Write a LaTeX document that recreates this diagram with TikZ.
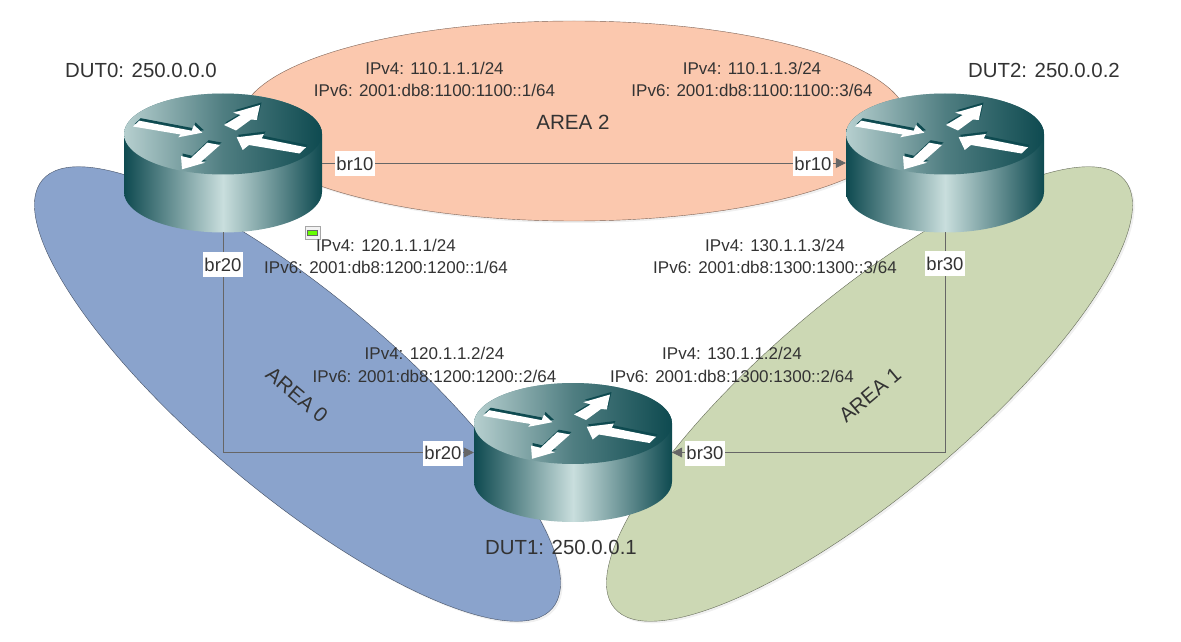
\documentclass[tikz,border=0pt]{standalone}
\usepackage{fontspec}
\setmainfont{Liberation Sans}
\usetikzlibrary{shapes.geometric,shadows,arrows.meta}

\definecolor{routerdark}{HTML}{0E4A50}
\definecolor{routerlight}{HTML}{C9DEDD}
\definecolor{labeltext}{HTML}{333333}
\definecolor{areaorange}{HTML}{FBC8AE}
\definecolor{areablue}{HTML}{8AA3CC}
\definecolor{areagreen}{HTML}{CCD8B4}

\newcommand{\arrowpoly}[1]{
    \fill[routerdark,shift={(1.5,2.5)}] #1 -- cycle;
    \fill[white] #1 -- cycle;
}

\tikzset{
    area/.style={ellipse,draw=#1!50!black,fill=#1,inner sep=0pt,
        drop shadow={opacity=0.12,shadow xshift=2pt,shadow yshift=-2pt}},
    routerbox/.style={minimum width=198,minimum height=138,inner sep=0pt},
    iplabel/.style={text=labeltext,align=center,font=\fontsize{17}{22.5}\selectfont},
    duttext/.style={text=labeltext,font=\fontsize{20.4}{24}\selectfont},
    areatext/.style={text=labeltext,font=\fontsize{20.6}{24}\selectfont},
    brlabel/.style={fill=white,text=labeltext,inner sep=0pt,minimum width=40,minimum height=25,font=\fontsize{18.5}{22}\selectfont},
    link/.style={draw=black!60,line width=0.7pt,-{Stealth[length=10pt,width=10pt,inset=0pt]}},
    router/.pic={
        \shade[left color=routerdark,right color=routerdark,middle color=routerlight]
            (-99,29) -- (-99,-29) arc[start angle=180,end angle=360,x radius=99,y radius=40.5]
            -- (99,29) arc[start angle=0,end angle=180,x radius=99,y radius=40.5] -- cycle;
        \shade[left color=routerlight!90!routerdark,right color=routerdark,middle color=routerdark!65!routerlight]
            (0,29) ellipse[x radius=99,y radius=40.5];
        \arrowpoly{(-90,36.5) -- (-83.7,42.3) -- (-31.3,32.3) -- (-29,38) -- (-20.7,30.3) -- (-44.7,25.7) -- (-42.5,28.5)}
        \arrowpoly{(37,58) -- (10.3,50.3) -- (17.7,48) -- (1,38) -- (13,32.5) -- (28,43.5) -- (33.7,43)}
        \arrowpoly{(13.7,25.7) -- (41,29) -- (38.7,24.7) -- (83,15.7) -- (76.5,9.5) -- (26,18) -- (19.7,13)}
        \arrowpoly{(-41,-6.3) -- (-42,7) -- (-32.3,4.7) -- (-15.7,20.3) -- (-3,18) -- (-22,1.2) -- (-18,0.3)}
    }
}

\begin{document}
\begin{tikzpicture}[x=1pt,y=1pt]
    \useasboundingbox (0,0) rectangle (1181,641);

    % areas
    \node[area=areaorange,minimum width=667,minimum height=200] (area2) at (574,520) {};
    \node[area=areablue,minimum width=666,minimum height=199,rotate=-40] (area0) at (297.5,247) {};
    \node[area=areagreen,minimum width=666,minimum height=199,rotate=40] (area1) at (869.5,247) {};

    % routers
    \node[routerbox] (dut0) at (223,478) {};
    \node[routerbox] (dut2) at (945,478) {};
    \node[routerbox] (dut1) at (573,188.5) {};
    \pic at (dut0) {router};
    \pic at (dut2) {router};
    \pic at (dut1) {router};

    % links
    \draw[link] (dut0.east) -- (dut2.west);
    \draw[link] (dut0.south) |- (dut1.west);
    \draw[link] (dut2.south) |- (dut1.east);

    % status icon
    \node[draw=black!35,fill=black!5,minimum width=15,minimum height=13,inner sep=0pt] (note) at (312.5,408.5) {};
    \node[draw=black!60,fill=green!60!yellow,minimum width=10,minimum height=4.5,inner sep=0pt] (noteled) at (note) {};

    % interface names
    \node[brlabel] (br10a) at (355,477) {br10};
    \node[brlabel] (br10b) at (813,477) {br10};
    \node[brlabel] (br20a) at (223,376) {br20};
    \node[brlabel] (br20b) at (443,188) {br20};
    \node[brlabel] (br30a) at (945,377) {br30};
    \node[brlabel] (br30b) at (705,188) {br30};

    % addresses
    \node[iplabel] (ip11) at (434.5,561.5) {IPv4: 110.1.1.1/24\\IPv6: 2001:db8:1100:1100::1/64};
    \node[iplabel] (ip13) at (752,561.5) {IPv4: 110.1.1.3/24\\IPv6: 2001:db8:1100:1100::3/64};
    \node[iplabel] (ip21) at (386,384.5) {IPv4: 120.1.1.1/24\\IPv6: 2001:db8:1200:1200::1/64};
    \node[iplabel] (ip33) at (775,384.5) {IPv4: 130.1.1.3/24\\IPv6: 2001:db8:1300:1300::3/64};
    \node[iplabel] (ip22) at (434.5,276) {IPv4: 120.1.1.2/24\\IPv6: 2001:db8:1200:1200::2/64};
    \node[iplabel] (ip32) at (732,276) {IPv4: 130.1.1.2/24\\IPv6: 2001:db8:1300:1300::2/64};

    % router names
    \node[duttext] (name0) at (141,571) {DUT0: 250.0.0.0};
    \node[duttext] (name2) at (1044,571) {DUT2: 250.0.0.2};
    \node[duttext] (name1) at (561,94) {DUT1: 250.0.0.1};

    % area names
    \node[areatext] (area2name) at (573,519) {AREA 2};
    \node[areatext,rotate=-40] (area0name) at (297,246) {AREA 0};
    \node[areatext,rotate=40] (area1name) at (870,246) {AREA 1};
\end{tikzpicture}
\end{document}
